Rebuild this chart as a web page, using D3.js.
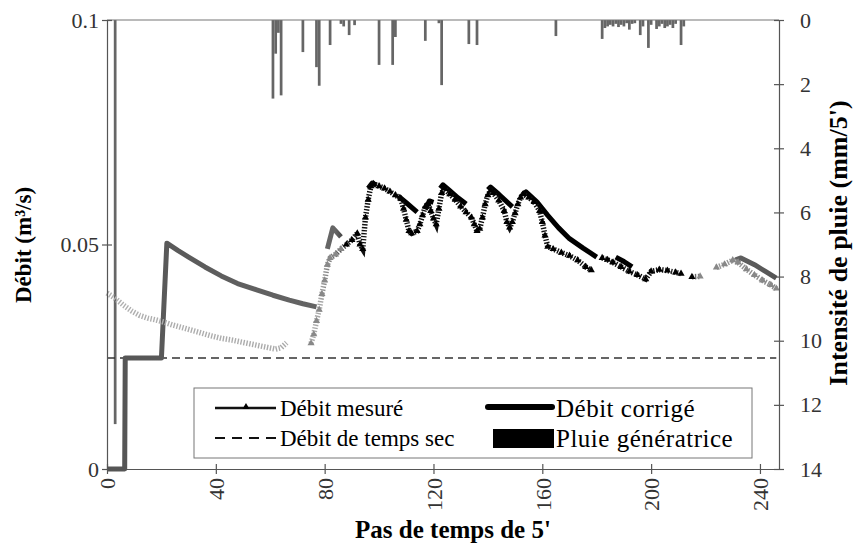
<!DOCTYPE html>
<html>
<head>
<meta charset="utf-8">
<script src="https://cdn.jsdelivr.net/npm/d3@7"></script>
<style>
  body { margin: 0; background: #fff; }
  svg text { font-family: "Liberation Serif", "Times New Roman", Times, "DejaVu Serif", serif !important; }
</style>
</head>
<body>
<div id="chart"></div>
<script>
// time step (pas de 5'), flow in m3/s ; null = break in the line
const debitMesure = [
  [0,0.0392],[3,0.0380],[6,0.0365],[9,0.0352],[12,0.0342],[15,0.0336],[18,0.0332],[21,0.0327],
  [24,0.0321],[27,0.0316],[30,0.0311],[34,0.0304],[38,0.0297],[42,0.0291],[46,0.0287],[50,0.0282],
  [54,0.0277],[58,0.0272],[62,0.0267],[64,0.0270],[66,0.0281], null,
  [75,0.0280],[76,0.0300],[77,0.0330],[78,0.0355],[79,0.0390],[80,0.0420],[81,0.0455],[82,0.0470],
  [84,0.0478],[86,0.0490],[88,0.0500],[90,0.0510],[92,0.0525],[93,0.0500],[94,0.0490],[95,0.0560],
  [96,0.0600],[97,0.0630],[98,0.0635],[100,0.0630],[102,0.0625],[104,0.0618],[106,0.0610],[108,0.0602],
  [109,0.0580],[110,0.0555],[111,0.0530],[112,0.0525],[114,0.0530],[115,0.0545],[116,0.0565],[117,0.0585],
  [118,0.0590],[119,0.0575],[120,0.0558],[121,0.0545],[122,0.0580],[123,0.0615],[124,0.0625],[126,0.0612],
  [128,0.0600],[130,0.0585],[132,0.0572],[134,0.0560],[135,0.0545],[136,0.0530],[137,0.0535],[138,0.0560],
  [139,0.0590],[140,0.0610],[141,0.0620],[142,0.0615],[144,0.0598],[146,0.0575],[147,0.0550],[148,0.0538],
  [149,0.0550],[150,0.0570],[151,0.0590],[152,0.0605],[153,0.0612],[155,0.0605],[157,0.0595],[159,0.0575],
  [160,0.0550],[161,0.0520],[162,0.0495],[164,0.0490],[167,0.0482],[170,0.0475],[173,0.0465],[176,0.0450],
  [178,0.0443], null,
  [182,0.0470],[184,0.0466],[186,0.0460],[189,0.0450],[192,0.0440],[195,0.0432],[198,0.0423],[200,0.0440],
  [203,0.0444],[206,0.0442],[209,0.0438],[211,0.0435], null,
  [215,0.0428],[218,0.0429], null,
  [224,0.0449],[227,0.0456],[230,0.0465],[232,0.0460],[235,0.0445],[238,0.0432],[241,0.0420],[244,0.0410],
  [246,0.0402]
];

const debitCorrige = [
  [0,0],[6.5,0],[6.7,0.0247],[20,0.0247],[22,0.0503],[26,0.0487],[30,0.0472],[36,0.0450],[42,0.0430],
  [48,0.0413],[55,0.0399],[61,0.0387],[67,0.0376],[72,0.0368],[77,0.0361], null,
  [81,0.0490],[83,0.0537],[86,0.0517], null,
  [96,0.0625],[97.5,0.0637],[99,0.0632], null,
  [107,0.0608],[110,0.0593],[114,0.0572], null,
  [117,0.0578],[118.5,0.0597],[120,0.0594], null,
  [122.5,0.0625],[123.5,0.0633],[126,0.0620],[129,0.0604],[132,0.0590], null,
  [140,0.0622],[141,0.0628],[144,0.0612],[147,0.0595],[149,0.0584], null,
  [153,0.0612],[154,0.0617],[158,0.0595],[162,0.0565],[166,0.0537],[170,0.0513],[175,0.0492],[180,0.0472], null,
  [187,0.0472],[190,0.0462],[193,0.0450], null,
  [231,0.0466],[233,0.0470],[238,0.0455],[242,0.0440],[246,0.0425]
];

const debitTempsSec = [[0,0.0247],[246,0.0247]];

// rain (mm/5')
const pluie = [
  [3,12.6],[61,2.45],[62,1.05],[63,0.4],[64,2.35],[72,1.0],[77,1.47],[78,2.05],[82,0.78],
  [86,0.12],[87,0.2],[89,0.47],[91,0.16],[100,1.4],[105,1.4],[106,0.53],[117,0.65],[122,0.1],
  [123,2.03],[133,0.75],[136,0.78],[165,0.5],[182,0.59],[183,0.25],[184,0.2],[185,0.15],[186,0.2],
  [187,0.12],[188,0.22],[189,0.15],[190,0.2],[191,0.1],[192,0.3],[193,0.12],[194,0.1],[196,0.47],
  [197,0.2],[199,0.87],[200,0.15],[202,0.28],[203,0.2],[204,0.12],[205,0.25],[206,0.2],[207,0.15],
  [208,0.25],[209,0.12],[211,0.78],[212,0.2]
];

const xTicks = [0, 40, 80, 120, 160, 200, 240];
const yTicks = [0, 0.05, 0.1];
const rainTicks = [0, 2, 4, 6, 8, 10, 12, 14];

const width = 857, height = 546;
const mLeft = 107, mRight = 779, mTop = 20, mBottom = 469;
const serif = '"Liberation Serif", "Times New Roman", Times, "DejaVu Serif", serif';

let svg = d3.select("#chart").append("svg")
  .attr("width", width)
  .attr("height", height)
  .attr("font-family", serif);

let x = d3.scaleLinear().domain([0, 247]).range([mLeft, mRight]);
let y = d3.scaleLinear().domain([0, 0.1]).range([mBottom, mTop]);
let yRain = d3.scaleLinear().domain([0, 14]).range([mTop, mBottom]);

// gradients to mimic the gray / black of the scan
let defs = svg.append("defs");
function grad(id, stops) {
  let g = defs.append("linearGradient").attr("id", id)
    .attr("gradientUnits", "userSpaceOnUse")
    .attr("x1", x(0)).attr("x2", x(247)).attr("y1", 0).attr("y2", 0);
  stops.forEach(s => g.append("stop").attr("offset", s[0] / 247).attr("stop-color", s[1]));
}
grad("gMes", [[0,"#b0b0b0"],[78,"#a8a8a8"],[92,"#111"],[205,"#111"],[222,"#999"],[247,"#888"]]);
grad("gCor", [[0,"#555"],[84,"#666"],[92,"#000"],[200,"#000"],[222,"#666"],[247,"#555"]]);

// rain bars hanging from the top
let bw = x(1) - x(0);
svg.append("g").selectAll("rect")
  .data(pluie)
  .enter()
  .append("rect")
  .attr("x", d => x(d[0]) - bw / 2)
  .attr("y", mTop)
  .attr("width", bw)
  .attr("height", d => yRain(d[1]) - mTop)
  .attr("fill", "#666");

svg.append("line")
  .attr("x1", mLeft).attr("x2", mRight).attr("y1", yRain(0)).attr("y2", yRain(0))
  .attr("stroke", "#777").attr("stroke-width", 1.2);

let line = d3.line()
  .defined(d => d !== null)
  .x(d => x(d[0]))
  .y(d => y(d[1]));

// dry weather flow
svg.append("path")
  .attr("d", line(debitTempsSec))
  .attr("fill", "none")
  .attr("stroke", "#333")
  .attr("stroke-width", 1.5)
  .attr("stroke-dasharray", "8,5");

// corrected flow
svg.append("path")
  .attr("d", line(debitCorrige))
  .attr("fill", "none")
  .attr("stroke", "url(#gCor)")
  .attr("stroke-width", 5)
  .attr("stroke-linejoin", "round");

// measured flow (hatched look + triangles)
svg.append("path")
  .attr("d", line(debitMesure))
  .attr("fill", "none")
  .attr("stroke", "url(#gMes)")
  .attr("stroke-width", 5.5)
  .attr("stroke-dasharray", "1.4,1.6");

let tri = d3.symbol().type(d3.symbolTriangle).size(22);
svg.append("g").selectAll("path")
  .data(debitMesure.filter(d => d !== null && d[0] > 74))
  .enter()
  .append("path")
  .attr("d", tri)
  .attr("transform", d => `translate(${x(d[0])},${y(d[1])})`)
  .attr("fill", d => (d[0] < 88 || d[0] > 215) ? "#888" : "#000");

// axes
function crossTicks(g, horiz) {
  g.attr("font-family", serif).attr("font-size", 22);
  g.selectAll(".tick line").each(function () {
    let l = d3.select(this);
    if (horiz) l.attr("y1", -5).attr("y2", 5);
    else l.attr("x1", -5).attr("x2", 5);
  });
  g.select(".domain").attr("stroke", "#555").attr("stroke-width", 1.2);
  g.selectAll(".tick line").attr("stroke", "#555").attr("stroke-width", 1.2);
  g.selectAll("text").attr("fill", "#333");
}

let gx = svg.append("g")
  .attr("transform", `translate(0,${mBottom})`)
  .call(d3.axisBottom(x).tickValues(xTicks).tickSize(5).tickSizeOuter(0));
crossTicks(gx, true);
gx.selectAll("text")
  .attr("transform", "rotate(-90)")
  .attr("text-anchor", "end")
  .attr("x", -9)
  .attr("y", 0)
  .attr("dy", "0.35em");

let gy = svg.append("g")
  .attr("transform", `translate(${mLeft},0)`)
  .call(d3.axisLeft(y).tickValues(yTicks).tickFormat(d => d === 0 ? "0" : String(d)).tickSize(5).tickSizeOuter(0));
crossTicks(gy, false);
gy.selectAll("text").attr("x", -8);

let gr = svg.append("g")
  .attr("transform", `translate(${mRight},0)`)
  .call(d3.axisRight(yRain).tickValues(rainTicks).tickSize(5).tickSizeOuter(0));
crossTicks(gr, false);
gr.selectAll("text").attr("x", 21);

// axis titles
svg.append("text")
  .attr("x", 453)
  .attr("y", 538)
  .attr("text-anchor", "middle")
  .attr("font-weight", "bold")
  .attr("font-size", 25)
  .text("Pas de temps de 5'");

svg.append("text")
  .attr("transform", "translate(31,245) rotate(-90)")
  .attr("text-anchor", "middle")
  .attr("font-weight", "bold")
  .attr("font-size", 23)
  .text("Débit (m³/s)");

svg.append("text")
  .attr("transform", "translate(847,243) rotate(-90)")
  .attr("text-anchor", "middle")
  .attr("font-weight", "bold")
  .attr("font-size", 26)
  .text("Intensité de pluie (mm/5')");

// legend
let lg = svg.append("g");
lg.append("rect")
  .attr("x", 194).attr("y", 388).attr("width", 558).attr("height", 70)
  .attr("fill", "#fff").attr("stroke", "#777").attr("stroke-width", 1);

lg.append("line").attr("x1", 215).attr("x2", 276).attr("y1", 408).attr("y2", 408)
  .attr("stroke", "#111").attr("stroke-width", 2.5);
lg.append("path").attr("d", tri).attr("transform", "translate(246,407)").attr("fill", "#000");
lg.append("line").attr("x1", 215).attr("x2", 276).attr("y1", 438).attr("y2", 438)
  .attr("stroke", "#111").attr("stroke-width", 1.8).attr("stroke-dasharray", "10,7");
lg.append("line").attr("x1", 488).attr("x2", 552).attr("y1", 407).attr("y2", 407)
  .attr("stroke", "#000").attr("stroke-width", 6).attr("stroke-linecap", "round");
lg.append("rect").attr("x", 493).attr("y", 429).attr("width", 61).attr("height", 19).attr("fill", "#000");

let legendText = [
  [280, 408, "Débit mesuré", 23, 0],
  [556, 408, "Débit corrigé", 25, 0.5],
  [280, 438, "Débit de temps sec", 23, 0],
  [556, 438, "Pluie génératrice", 25, 0.5]
];
lg.selectAll("text.lab")
  .data(legendText)
  .enter()
  .append("text")
  .attr("class", "lab")
  .attr("x", d => d[0])
  .attr("y", d => d[1])
  .attr("dy", "0.35em")
  .attr("font-size", d => d[3])
  .attr("letter-spacing", d => d[4])
  .attr("fill", "#000")
  .text(d => d[2]);
</script>
</body>
</html>
